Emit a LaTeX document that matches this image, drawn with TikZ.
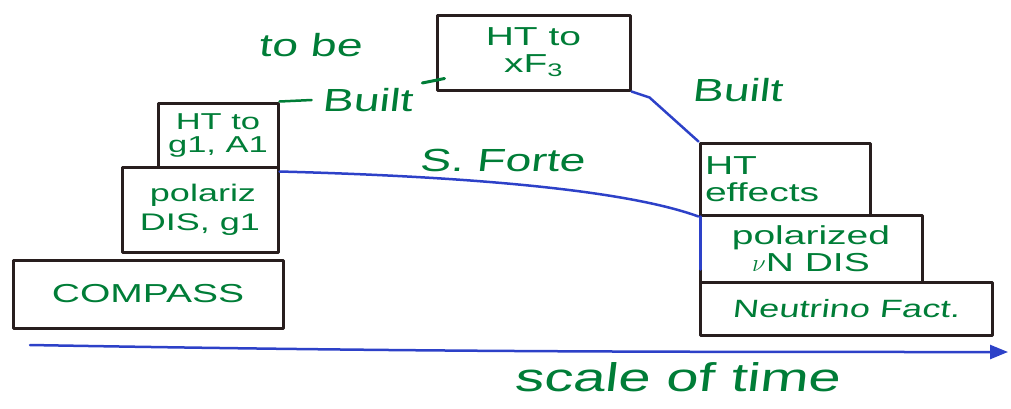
\documentclass[tikz,border=0pt]{standalone}
\usepackage{fontspec}
\setmainfont{Liberation Sans}
\newfontfamily\hand[FakeStretch=1.5]{Liberation Sans}
\newfontfamily\handsl[FakeStretch=1.45,FakeSlant=0.12]{Liberation Sans}
\usetikzlibrary{arrows.meta}
\definecolor{pen}{RGB}{0,125,55}
\definecolor{ink}{RGB}{40,30,30}
\definecolor{bluepen}{RGB}{45,65,200}
\tikzset{
  bx/.style={draw=ink, line width=3pt, inner sep=0pt, align=center, text=pen,
             font=\hand\fontsize{26}{27}\selectfont, line join=round},
  lbl/.style={text=pen, inner sep=0pt, font=\handsl\fontsize{32}{32}\selectfont},
  bl/.style={draw=bluepen, line width=2.5pt, line cap=round},
  gl/.style={draw=pen, line width=2.5pt, line cap=round}
}
\begin{document}
\begin{tikzpicture}[x=1pt,y=-1pt]
\useasboundingbox (0,0) rectangle (1011,408);
% boxes
\node[bx, minimum width=270pt, minimum height=68pt] (compass) at (148,294) {COMPASS};
\node[bx, minimum width=156pt, minimum height=85pt, font=\hand\fontsize{24}{29}\selectfont] (pol) at (200,209.5) {\hspace*{6pt}polariz\\DIS, g1};
\node[bx, minimum width=120pt, minimum height=64pt, font=\hand\fontsize{23}{23}\selectfont] (htg) at (218,135) {HT to\\g1, A1};
\node[bx, minimum width=193pt, minimum height=75pt] (htx) at (533.5,52.5) {HT to\\xF\textsubscript{3}};
\node[bx, minimum width=170pt, minimum height=72pt, align=left, text width=160pt] (hte) at (785,179) {HT\\effects};
\node[bx, minimum width=222pt, minimum height=67pt] (pnu) at (811,248.5) {polarized\\$\nu$N DIS};
\node[bx, minimum width=292pt, minimum height=53pt, font=\handsl\fontsize{25}{25}\selectfont] (nf) at (846,308.5) {Neutrino Fact.};
% labels
\node[lbl] (tobe) at (310,45) {to be};
\node[lbl] (built1) at (367,100) {Built};
\node[lbl] (forte) at (502,160) {S. Forte};
\node[lbl] (built2) at (737,90) {Built};
\node[lbl, font=\handsl\fontsize{40}{40}\selectfont] (scale) at (677,377) {scale of time};
% connectors
\coordinate (ax0) at (30,345);
\coordinate (ax1) at (1008,352);
\draw[bl, -{Triangle[length=18pt,width=14pt]}] (ax0) to[out=-1,in=180] (ax1);
\draw[bl] ([yshift=-6pt]pol.north east) .. controls (450,176) and (620,188) .. (hte.south west);
\draw[bl] ([xshift=2pt]hte.south west) -- ([xshift=2pt,yshift=14pt]pnu.south west);
\draw[bl] (htx.south east) -- ++(18,6) -- (hte.north west);
\draw[gl] (htg.north east) -- ([xshift=-10pt]built1.west);
\draw[gl, line width=3pt] ([xshift=10pt,yshift=17pt]built1.east) -- ([xshift=9pt,yshift=13pt]htx.south west);
\end{tikzpicture}
\end{document}
